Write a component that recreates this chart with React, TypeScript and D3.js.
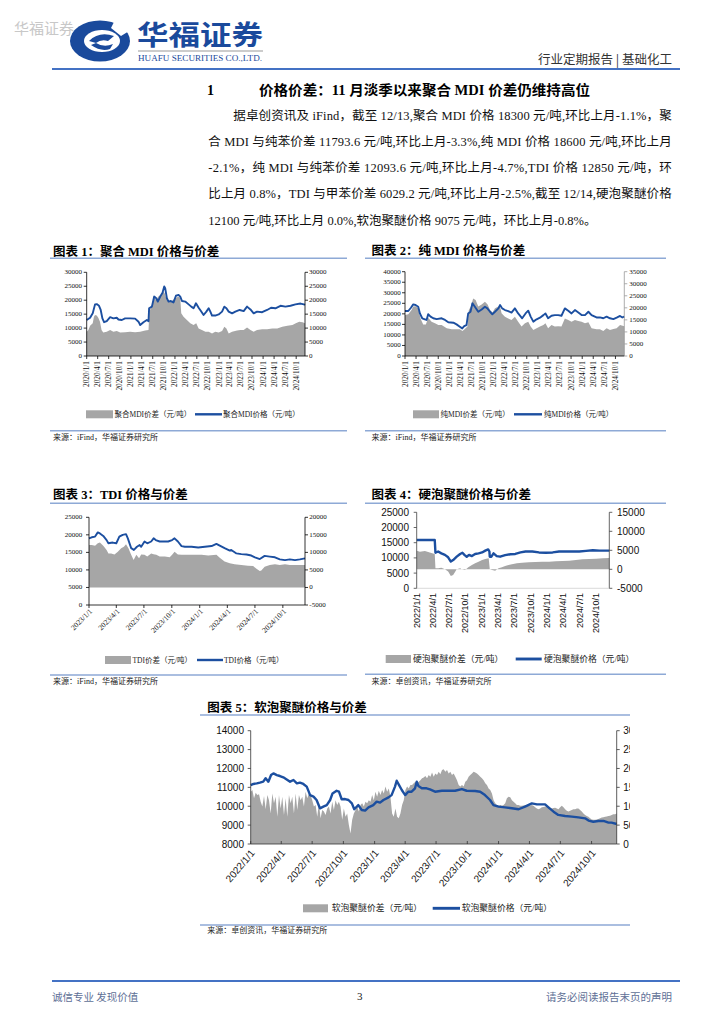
import React from "react";
import * as d3 from "d3";

// ---------------- DATA ----------------
const qTicks2020 = ["2020/1/1","2020/4/1","2020/7/1","2020/10/1","2021/1/1","2021/4/1","2021/7/1","2021/10/1","2022/1/1","2022/4/1","2022/7/1","2022/10/1","2023/1/1","2023/4/1","2023/7/1","2023/10/1","2024/1/1","2024/4/1","2024/7/1","2024/10/1"];
const qTicks2022 = ["2022/1/1","2022/4/1","2022/7/1","2022/10/1","2023/1/1","2023/4/1","2023/7/1","2023/10/1","2024/1/1","2024/4/1","2024/7/1","2024/10/1"];
const qTicks2023 = ["2023/1/1","2023/4/1","2023/7/1","2023/10/1","2024/1/1","2024/4/1","2024/7/1","2024/10/1"];

// Chart 1: 聚合MDI
const c1LeftTicks = [0,5000,10000,15000,20000,25000,30000];
const c1RightTicks = [0,5000,10000,15000,20000,25000,30000];
const c1PriceDates = ["2020-01-01","2020-01-29","2020-02-20","2020-03-10","2020-03-24","2020-04-12","2020-04-26","2020-05-10","2020-05-24","2020-06-15","2020-07-13","2020-08-09","2020-09-06","2020-09-20","2020-10-18","2020-11-14","2020-12-26","2021-02-05","2021-03-05","2021-03-19","2021-04-15","2021-05-13","2021-05-27","2021-06-01","2021-06-24","2021-07-13","2021-07-30","2021-08-12","2021-09-01","2021-09-20","2021-10-04","2021-10-12","2021-10-26","2021-11-09","2021-11-28","2021-12-20","2022-01-09","2022-01-31","2022-02-14","2022-02-28","2022-03-27","2022-04-24","2022-05-16","2022-06-04","2022-06-24","2022-07-16","2022-08-04","2022-08-26","2022-09-18","2022-10-07","2022-10-21","2022-11-04","2022-12-01","2022-12-29","2023-01-26","2023-02-14","2023-03-03","2023-03-22","2023-04-19","2023-05-16","2023-06-21","2023-07-24","2023-08-21","2023-09-18","2023-10-15","2023-11-12","2023-12-24","2024-02-03","2024-03-07","2024-04-12","2024-05-24","2024-07-04","2024-08-15","2024-09-25","2024-11-06","2024-12-04","2024-12-13"];
const c1Price = [12900,13700,15300,18500,18600,18000,16500,13500,12100,12500,13900,13500,13700,13100,12900,13500,13500,13400,12300,11100,12100,12900,12500,17100,17700,21300,20700,19500,21300,22700,24900,24300,20700,19500,19700,19200,21600,21900,21300,19700,19500,18500,17700,17100,18900,17300,16100,14700,15900,17100,15900,14500,14500,14900,15900,17700,17100,15900,15300,15900,16500,16100,17700,16700,15300,15900,15700,16500,17300,17100,18000,17700,18000,18500,18800,18500,18300];
const c1SpreadDates = ["2020-01-01","2020-01-15","2020-01-29","2020-02-20","2020-03-01","2020-03-10","2020-03-24","2020-04-06","2020-04-20","2020-05-03","2020-05-17","2020-06-15","2020-07-13","2020-08-09","2020-09-06","2020-10-04","2020-11-14","2020-12-26","2021-02-05","2021-03-19","2021-04-29","2021-05-27","2021-06-03","2021-06-24","2021-07-13","2021-07-30","2021-08-16","2021-09-06","2021-09-28","2021-10-08","2021-10-20","2021-11-09","2021-12-06","2022-01-03","2022-01-31","2022-02-14","2022-02-22","2022-03-13","2022-04-10","2022-05-08","2022-06-04","2022-06-26","2022-07-16","2022-08-12","2022-09-10","2022-10-07","2022-11-04","2022-12-01","2022-12-29","2023-01-26","2023-02-14","2023-03-03","2023-03-22","2023-04-19","2023-05-30","2023-06-27","2023-07-24","2023-08-21","2023-09-18","2023-10-15","2023-11-12","2023-12-24","2024-02-03","2024-03-17","2024-04-27","2024-06-08","2024-07-20","2024-08-31","2024-09-28","2024-10-26","2024-11-23","2024-12-13"];
const c1Spread = [8700,9300,10800,11700,14100,14700,14500,13700,12300,9300,8400,8700,9300,8700,9000,8400,8500,8700,8500,8700,9100,9300,15900,18300,20700,20100,21300,21900,23000,22500,20700,19500,19700,20700,21300,20700,15300,14100,12900,11700,11100,11700,9900,9300,8700,8700,8100,8700,8400,9000,10500,9900,8100,8700,9100,9300,9300,10200,9300,8700,9300,9600,9600,9900,9900,10500,10800,11100,11700,12300,12100,11700];

// Chart 2: 纯MDI
const c2LeftTicks = [0,5000,10000,15000,20000,25000,30000,35000,40000];
const c2RightTicks = [0,5000,10000,15000,20000,25000,30000,35000];
const c2PriceDates = ["2020-01-01","2020-01-28","2020-02-19","2020-03-09","2020-03-28","2020-04-19","2020-05-03","2020-05-22","2020-06-13","2020-06-27","2020-07-10","2020-07-30","2020-08-21","2020-09-18","2020-10-29","2020-11-26","2020-12-23","2021-02-03","2021-03-01","2021-03-28","2021-04-17","2021-05-03","2021-05-22","2021-06-05","2021-06-24","2021-07-10","2021-07-30","2021-08-27","2021-09-24","2021-10-21","2021-11-10","2021-12-02","2021-12-21","2022-01-12","2022-02-09","2022-02-23","2022-03-12","2022-04-04","2022-05-01","2022-05-28","2022-06-25","2022-07-22","2022-08-24","2022-09-21","2022-10-13","2022-11-02","2022-11-24","2022-12-21","2023-01-18","2023-02-15","2023-03-04","2023-03-26","2023-04-23","2023-05-20","2023-06-17","2023-07-14","2023-08-11","2023-09-08","2023-10-05","2023-11-02","2023-11-30","2023-12-27","2024-01-24","2024-02-21","2024-03-18","2024-04-28","2024-05-26","2024-06-23","2024-07-20","2024-08-17","2024-09-14","2024-10-11","2024-11-08","2024-11-27","2024-12-13"];
const c2Price = [21340,21340,22900,24500,24200,23400,20200,17900,17400,17100,19800,18700,17900,17500,17900,17100,16000,15800,15000,13900,13100,14200,14700,20200,21000,25000,23400,21000,22100,23400,22600,21000,19800,21000,22600,24200,22600,21800,21300,20600,22600,20200,17900,20200,21500,18700,16300,17400,18200,19400,20200,17900,19100,19400,19400,19100,22600,21500,20200,21800,20600,19400,19400,21000,19400,18300,18300,17900,18700,17900,17500,18200,19000,18300,18650];
const c2SpreadDates = ["2020-01-01","2020-01-28","2020-02-24","2020-03-09","2020-03-28","2020-04-19","2020-05-08","2020-05-30","2020-06-21","2020-07-10","2020-08-07","2020-09-04","2020-10-02","2020-10-29","2020-12-10","2021-01-20","2021-03-01","2021-03-28","2021-04-19","2021-05-08","2021-05-30","2021-06-10","2021-06-27","2021-07-16","2021-08-05","2021-08-27","2021-09-24","2021-10-21","2021-11-12","2021-12-02","2021-12-23","2022-01-12","2022-02-09","2022-02-23","2022-03-07","2022-04-04","2022-05-01","2022-05-28","2022-06-25","2022-07-22","2022-08-19","2022-09-16","2022-10-13","2022-11-02","2022-11-24","2022-12-21","2023-01-18","2023-02-15","2023-03-04","2023-03-26","2023-04-23","2023-05-20","2023-06-17","2023-07-14","2023-08-11","2023-09-08","2023-10-05","2023-11-02","2023-11-30","2023-12-27","2024-01-24","2024-02-21","2024-03-18","2024-04-28","2024-05-26","2024-06-23","2024-07-20","2024-08-17","2024-09-14","2024-10-11","2024-11-08","2024-12-13"];
const c2Spread = [17000,17300,19100,20500,20700,19800,15600,13100,13100,15900,14200,13600,12900,12900,11500,11100,11100,11100,10400,11200,12200,19100,20500,23900,23200,20500,21400,22500,21400,19100,18100,19800,20500,20500,17700,16300,15600,14900,16300,14200,12200,13600,14200,12200,10800,11500,12200,12900,13600,11500,12900,12200,12400,12200,15600,14900,14200,14900,14500,14200,13600,14000,11500,11100,11100,10400,11500,10800,11200,11500,12900,12400];

// Chart 3: TDI
const c3LeftTicks = [0,5000,10000,15000,20000,25000];
const c3RightTicks = [-5000,0,5000,10000,15000,20000];
const c3PriceDates = ["2023-01-01","2023-01-10","2023-01-21","2023-01-30","2023-02-06","2023-02-17","2023-02-28","2023-03-06","2023-03-20","2023-04-01","2023-04-11","2023-04-22","2023-05-03","2023-05-09","2023-05-20","2023-05-29","2023-06-08","2023-06-17","2023-06-22","2023-07-03","2023-07-12","2023-07-25","2023-08-02","2023-08-09","2023-08-22","2023-09-08","2023-09-19","2023-10-02","2023-10-10","2023-10-21","2023-11-02","2023-11-13","2023-12-05","2023-12-27","2024-01-18","2024-02-09","2024-02-25","2024-03-07","2024-03-23","2024-04-09","2024-04-14","2024-05-01","2024-05-17","2024-06-03","2024-06-19","2024-07-01","2024-07-17","2024-08-02","2024-08-19","2024-09-05","2024-09-21","2024-10-08","2024-10-24","2024-11-10","2024-11-26","2024-12-13"];
const c3Price = [19000,19300,19500,20700,20400,19700,18500,17600,17800,17600,19500,20000,20200,19000,16200,15700,16600,17100,16600,18100,17600,18100,19000,18500,18100,18100,18100,18500,19000,18100,16800,16600,16600,16400,16600,16800,17400,16900,16200,15500,15700,14700,14500,14400,14100,13600,13100,14000,13800,13600,13000,12800,13000,12800,13000,13300];
const c3SpreadDates = ["2023-01-01","2023-01-10","2023-01-21","2023-01-30","2023-02-06","2023-02-17","2023-02-28","2023-03-06","2023-03-15","2023-03-26","2023-04-06","2023-04-17","2023-04-26","2023-05-03","2023-05-11","2023-05-20","2023-05-28","2023-06-06","2023-06-15","2023-06-22","2023-07-03","2023-07-12","2023-07-25","2023-08-02","2023-08-11","2023-08-22","2023-09-08","2023-09-24","2023-10-02","2023-10-10","2023-10-21","2023-11-02","2023-11-24","2023-12-15","2024-01-07","2024-01-29","2024-02-25","2024-03-07","2024-03-23","2024-04-09","2024-04-25","2024-05-17","2024-06-08","2024-06-25","2024-07-06","2024-07-17","2024-07-22","2024-08-02","2024-08-19","2024-09-05","2024-09-21","2024-10-08","2024-10-24","2024-11-10","2024-11-26","2024-12-13"];
const c3Spread = [12100,12100,11900,12600,12800,11900,10700,9700,9700,9400,10200,11200,11600,12300,11200,9300,7800,9300,8300,9400,9300,8800,9700,9500,9300,8800,8800,8600,9300,10200,9400,9300,9300,9300,9300,9100,9300,8500,7400,6900,6600,6400,6200,6100,5300,4700,4800,5900,6400,6600,6400,6600,6400,6400,6400,6400];

// Chart 4: 硬泡聚醚
const c4LeftTicks = [0,5000,10000,15000,20000,25000];
const c4RightTicks = [-5000,0,5000,10000,15000];
const c4PriceDates = ["2022-01-01","2022-04-12","2022-04-16","2022-05-01","2022-05-19","2022-06-08","2022-06-26","2022-07-11","2022-07-24","2022-08-13","2022-09-01","2022-09-14","2022-09-25","2022-10-08","2022-10-21","2022-11-06","2022-11-24","2022-12-13","2023-01-02","2023-01-20","2023-02-05","2023-02-12","2023-02-14","2023-02-23","2023-03-07","2023-03-25","2023-04-13","2023-05-11","2023-06-09","2023-07-07","2023-08-05","2023-09-02","2023-10-10","2023-11-16","2023-12-24","2024-02-01","2024-03-08","2024-04-15","2024-05-22","2024-06-29","2024-08-06","2024-09-13","2024-10-20","2024-11-27","2024-12-14"];
const c4Price = [15900,15900,11700,12100,11500,11000,10200,8800,9300,10400,11300,11700,11000,10400,11000,10600,11300,11500,11800,12400,12800,12100,10400,10400,11500,10600,10400,10900,11200,11300,11800,12100,12100,11800,11700,11800,12100,12100,12100,12100,12300,12500,12400,12400,12400];
const c4SpreadDates = ["2022-01-01","2022-01-19","2022-02-16","2022-03-15","2022-04-12","2022-04-16","2022-05-01","2022-05-19","2022-06-08","2022-06-26","2022-07-11","2022-07-24","2022-08-13","2022-09-01","2022-09-10","2022-09-29","2022-10-17","2022-11-06","2022-11-24","2022-12-13","2023-01-02","2023-01-20","2023-02-08","2023-02-14","2023-02-27","2023-03-16","2023-04-04","2023-04-23","2023-05-11","2023-05-30","2023-06-18","2023-07-16","2023-08-14","2023-09-21","2023-10-28","2023-12-05","2024-01-12","2024-02-19","2024-03-27","2024-05-03","2024-06-10","2024-07-17","2024-08-25","2024-10-01","2024-11-08","2024-12-14"];
const c4Spread = [4900,4650,4800,4400,4000,260,260,440,0,-600,-1750,-1500,0,260,0,-175,530,1140,1580,2000,2450,2700,2900,0,-175,-350,260,530,880,1140,1300,1580,1750,1840,1930,2000,2000,2100,2200,2280,2450,2630,2720,2800,2900,2980];

// Chart 5: 软泡聚醚
const c5LeftTicks = [8000,9000,10000,11000,12000,13000,14000];
const c5RightTicks = [0,500,1000,1500,2000,2500,3000];
const c5PriceDates = ["2022-01-01","2022-01-09","2022-01-19","2022-01-28","2022-02-07","2022-02-14","2022-02-22","2022-03-02","2022-03-09","2022-03-19","2022-03-28","2022-04-07","2022-04-17","2022-04-27","2022-05-07","2022-05-17","2022-05-26","2022-06-05","2022-06-15","2022-06-25","2022-07-05","2022-07-14","2022-07-24","2022-08-03","2022-08-13","2022-08-23","2022-08-30","2022-09-11","2022-09-18","2022-09-26","2022-10-06","2022-10-16","2022-10-26","2022-11-02","2022-11-14","2022-11-24","2022-12-04","2022-12-14","2022-12-28","2023-01-07","2023-01-17","2023-01-27","2023-02-11","2023-02-20","2023-03-02","2023-03-07","2023-03-14","2023-03-22","2023-04-01","2023-04-10","2023-04-20","2023-04-30","2023-05-05","2023-05-10","2023-05-20","2023-06-03","2023-06-13","2023-06-28","2023-07-18","2023-08-06","2023-08-26","2023-09-15","2023-09-29","2023-10-24","2023-11-08","2023-11-22","2023-12-07","2023-12-17","2024-01-01","2024-01-20","2024-02-09","2024-02-29","2024-03-19","2024-04-08","2024-04-23","2024-05-17","2024-05-27","2024-06-11","2024-06-25","2024-07-15","2024-08-04","2024-08-23","2024-09-12","2024-09-22","2024-10-06","2024-10-21","2024-11-05","2024-11-20","2024-11-29","2024-12-14"];
const c5Price = [11120,11180,11210,11250,11300,11480,11300,11650,11740,11650,11600,11530,11420,11300,11390,11210,11250,11180,11040,10590,10510,10330,9890,9980,10060,10330,10680,10820,10770,10370,10380,10330,10150,9840,10060,9800,9770,9940,10060,10240,10190,10330,10470,10590,11040,11350,11120,10860,10590,10770,10770,10950,11300,11070,10950,10950,10890,10770,10820,10820,10820,10910,10820,10810,10770,10590,10330,10060,9980,9940,9890,9840,9980,10150,10100,10100,9940,9710,9540,9480,9450,9410,9360,9240,9180,9220,9220,9130,9130,9060];
// soft-foam spread: daily-series samples taken at equal intervals from 2022/1/1 to 2024/12/14
const c5Spread = [1385,1430,1210,1360,1300,1320,1120,990,1270,920,1300,1160,810,1340,1080,1250,720,1300,940,1250,770,1210,720,1300,1080,1250,810,1340,900,1300,1160,1250,990,1385,1210,1340,1300,1160,990,1030,720,1080,680,900,860,770,940,990,810,1120,900,1160,1030,1120,990,640,940,720,810,500,280,640,810,900,990,860,1030,1080,990,1120,1080,1160,1120,1300,1160,1385,1250,1410,1300,1430,1340,1520,1385,1470,1250,810,720,940,720,680,810,1030,1160,1430,1520,1470,1560,1560,1610,1650,1610,1650,1690,1740,1760,1800,1740,1830,1780,1890,1780,1870,1830,1910,1850,1960,1980,1910,1960,1870,1910,1830,1870,1780,1690,1560,1520,1560,1520,1650,1690,1780,1830,1870,1910,1890,1870,1830,1780,1740,1690,1610,1560,1470,1430,1340,1160,1080,1030,1010,1030,1010,1030,1080,1210,1250,1240,1160,1120,1080,1030,1030,1010,1010,1020,1030,1010,1010,1020,1030,1010,970,940,920,940,970,980,990,980,970,950,940,950,960,940,920,970,1010,970,920,880,860,880,900,920,920,940,940,900,860,810,770,740,720,680,650,640,640,650,660,680,700,710,720,730,740,750,770,790,790,810];

const bodyLines = [
  "据卓创资讯及 iFind，截至 12/13,聚合 MDI 价格 18300 元/吨,环比上月-1.1%，聚",
  "合 MDI 与纯苯价差 11793.6 元/吨,环比上月-3.3%,纯 MDI 价格 18600 元/吨,环比上月",
  "-2.1%，纯 MDI 与纯苯价差 12093.6 元/吨,环比上月-4.7%,TDI 价格 12850 元/吨，环",
  "比上月 0.8%，TDI 与甲苯价差 6029.2 元/吨,环比上月-2.5%,截至 12/14,硬泡聚醚价格",
  "12100 元/吨,环比上月 0.0%,软泡聚醚价格 9075 元/吨，环比上月-0.8%。",
];

// ---------------- STYLE ----------------
const SERIF = "'Liberation Serif','Times New Roman','Noto Sans CJK SC',serif";
const SANS = "'Liberation Sans',Arial,'Noto Sans CJK SC',sans-serif";
const BLUE = "#1C4FA0";
const AREA = "#A6A6A6";
const RULE = "#8EA9D6";
const LOGO = "#1A4A9C";

type Pt = { d: Date; v: number };
const pd = (s: string) => {
  const [y, m, d] = s.split(/[-/]/).map(Number);
  return new Date(y, m - 1, d);
};

type Spec = {
  id: string;
  title: string; titleX: number; titleY: number;
  ruleX0: number; ruleX1: number; ruleTop: number; ruleBottom: number;
  source: string; sourceY: number;
  left: number; right: number; top: number; bottom: number;
  xStart: string; xEnd: string; xTicks: string[];
  yL: number[]; yLTicks: number[]; yR: number[]; yRTicks: number[];
  areaDates?: string[]; areaValues: number[]; areaAxis: "L" | "R";
  lineDates: string[]; lineValues: number[]; lineAxis: "L" | "R";
  font: string; tickFont: number; xFont: number; rot: number; xLabelY: number;
  lLabelX: number; rLabelX: number;
  legendY: number; rect: number[]; t1x: number; seg: number[]; t2x: number;
  t1: string; t2: string; legendFont: number;
  lineWidth: number; ticksUp?: boolean; axisColor: string; rightAxisColor: string;
  bottomColor: string; bottomTicks: boolean; clipRight?: number;
};

function Chart({ s }: { s: Spec }) {
  const x = d3.scaleTime().domain([pd(s.xStart), pd(s.xEnd)]).range([s.left, s.right]);
  const yL = d3.scaleLinear().domain(s.yL).range([s.bottom, s.top]);
  const yR = d3.scaleLinear().domain(s.yR).range([s.bottom, s.top]);
  const ya = s.areaAxis === "L" ? yL : yR;
  const yl = s.lineAxis === "L" ? yL : yR;
  const t0 = +pd(s.xStart), t1 = +pd(s.xEnd);
  const n = s.areaValues.length;
  const aDates = s.areaDates
    ? s.areaDates.map(pd)
    : s.areaValues.map((_, i) => new Date(t0 + ((t1 - t0) * i) / (n - 1)));
  const aPts: Pt[] = s.areaValues.map((v, i) => ({ d: aDates[i], v })).filter((p) => p.d);
  const lPts: Pt[] = s.lineValues
    .map((v, i) => ({ d: s.lineDates[i] ? pd(s.lineDates[i]) : (null as any), v }))
    .filter((p) => p.d);
  const areaPath = d3.area<Pt>().x((p) => x(p.d)).y0(ya(0)).y1((p) => ya(p.v))(aPts) || "";
  const linePath = d3.line<Pt>().x((p) => x(p.d)).y((p) => yl(p.v))(lPts) || "";
  const xt = s.xTicks.map((l) => ({ l, x: x(pd(l)) }));
  const clipId = `clip-${s.id}`;
  return (
    <g>
      {s.clipRight && (
        <defs>
          <clipPath id={clipId}>
            <rect x={0} y={0} width={s.clipRight} height={1024} />
          </clipPath>
        </defs>
      )}
      <text x={s.titleX} y={s.titleY} fontFamily={SERIF} fontWeight="bold" fontSize={12.5} dominantBaseline="central" fill="#000">
        {s.title}
      </text>
      <line x1={s.ruleX0} x2={s.ruleX1} y1={s.ruleTop} y2={s.ruleTop} stroke={RULE} strokeWidth={1.5} />
      <line x1={s.ruleX0} x2={s.ruleX1} y1={s.ruleBottom} y2={s.ruleBottom} stroke={RULE} strokeWidth={1.5} />
      <text x={s.titleX} y={s.sourceY} fontFamily={SERIF} fontSize={8} dominantBaseline="central" fill="#222">
        {s.source}
      </text>
      <path d={areaPath} fill={AREA} />
      <path d={linePath} fill="none" stroke={BLUE} strokeWidth={s.lineWidth} strokeLinejoin="round" />
      <line x1={s.left} x2={s.left} y1={s.top} y2={s.bottom} stroke={s.axisColor} strokeWidth={0.8} />
      <line x1={s.right} x2={s.right} y1={s.top} y2={s.bottom} stroke={s.rightAxisColor} strokeWidth={0.8} />
      <line x1={s.left} x2={s.right} y1={s.bottom} y2={s.bottom} stroke={s.bottomColor} strokeWidth={0.8} />
      {s.yLTicks.map((v) => (
        <g key={"l" + v}>
          <line x1={s.left - 3} x2={s.left} y1={yL(v)} y2={yL(v)} stroke={s.axisColor} strokeWidth={0.8} />
          <text x={s.lLabelX} y={yL(v)} textAnchor="end" dominantBaseline="central" fontFamily={s.font} fontSize={s.tickFont} fill="#111">
            {v}
          </text>
        </g>
      ))}
      <g clipPath={s.clipRight ? `url(#${clipId})` : undefined}>
        {s.yRTicks.map((v) => (
          <g key={"r" + v}>
            <line x1={s.right} x2={s.right + 3} y1={yR(v)} y2={yR(v)} stroke={s.rightAxisColor} strokeWidth={0.8} />
            <text x={s.rLabelX} y={yR(v)} textAnchor="start" dominantBaseline="central" fontFamily={s.font} fontSize={s.tickFont} fill="#111">
              {v}
            </text>
          </g>
        ))}
      </g>
      {xt.map((t) => (
        <g key={t.l}>
          {s.bottomTicks && (
            <line x1={t.x} x2={t.x} y1={s.bottom} y2={s.ticksUp ? s.bottom - 3 : s.bottom + 3} stroke={s.bottomColor} strokeWidth={0.8} />
          )}
          <text
            transform={`translate(${t.x + (s.rot === -90 ? 0 : 2)},${s.xLabelY}) rotate(${s.rot})`}
            textAnchor="end"
            dominantBaseline="central"
            fontFamily={s.font}
            fontSize={s.xFont}
            fill="#111"
          >
            {t.l}
          </text>
        </g>
      ))}
      <rect x={s.rect[0]} y={s.legendY - 4} width={s.rect[1] - s.rect[0]} height={8} fill={AREA} />
      <text x={s.t1x} y={s.legendY} dominantBaseline="central" fontFamily={SERIF} fontSize={s.legendFont} fill="#222">
        {s.t1}
      </text>
      <line x1={s.seg[0]} x2={s.seg[1]} y1={s.legendY} y2={s.legendY} stroke={BLUE} strokeWidth={s.lineWidth + 0.5} />
      <text x={s.t2x} y={s.legendY} dominantBaseline="central" fontFamily={SERIF} fontSize={s.legendFont} fill="#222">
        {s.t2}
      </text>
    </g>
  );
}

const specs: Spec[] = [
  {
    id: "c1", title: "图表 1：聚合 MDI 价格与价差", titleX: 53, titleY: 251.5,
    ruleX0: 50, ruleX1: 347, ruleTop: 258.3, ruleBottom: 430.7,
    source: "来源：iFind，华福证券研究所", sourceY: 437,
    left: 86.7, right: 305, top: 272.3, bottom: 356,
    xStart: "2020-01-01", xEnd: "2024-12-13", xTicks: qTicks2020,
    yL: [0, 30000], yLTicks: c1LeftTicks, yR: [0, 30000], yRTicks: c1RightTicks,
    areaDates: c1SpreadDates, areaValues: c1Spread, areaAxis: "L",
    lineDates: c1PriceDates, lineValues: c1Price, lineAxis: "R",
    font: SERIF, tickFont: 7, xFont: 7.3, rot: -90, xLabelY: 361,
    lLabelX: 82, rLabelX: 309,
    legendY: 414.3, rect: [86, 113], t1x: 114.5, seg: [195, 222], t2x: 223,
    t1: "聚合MDI价差（元/吨）", t2: "聚合MDI价格（元/吨）", legendFont: 7.5,
    lineWidth: 1.9, axisColor: "#000", rightAxisColor: "#000", bottomColor: "#000", bottomTicks: true,
  },
  {
    id: "c2", title: "图表 2：纯 MDI 价格与价差", titleX: 371.5, titleY: 251,
    ruleX0: 365, ruleX1: 666, ruleTop: 258.3, ruleBottom: 430.7,
    source: "来源：iFind，华福证券研究所", sourceY: 437,
    left: 405, right: 624.3, top: 271.7, bottom: 356,
    xStart: "2020-01-01", xEnd: "2024-12-13", xTicks: qTicks2020,
    yL: [0, 40000], yLTicks: c2LeftTicks, yR: [0, 35000], yRTicks: c2RightTicks,
    areaDates: c2SpreadDates, areaValues: c2Spread, areaAxis: "R",
    lineDates: c2PriceDates, lineValues: c2Price, lineAxis: "L",
    font: SERIF, tickFont: 7, xFont: 7.3, rot: -90, xLabelY: 361,
    lLabelX: 400.7, rLabelX: 629.3,
    legendY: 414.3, rect: [413, 439], t1x: 440.5, seg: [514, 542], t2x: 544,
    t1: "纯MDI价差（元/吨）", t2: "纯MDI价格（元/吨）", legendFont: 7.5,
    lineWidth: 1.9, axisColor: "#000", rightAxisColor: "#999", bottomColor: "#000", bottomTicks: true,
  },
  {
    id: "c3", title: "图表 3：TDI 价格与价差", titleX: 53, titleY: 495,
    ruleX0: 50, ruleX1: 347, ruleTop: 503.3, ruleBottom: 675,
    source: "来源：iFind，华福证券研究所", sourceY: 681.7,
    left: 89, right: 305, top: 517.3, bottom: 605,
    xStart: "2023-01-01", xEnd: "2024-12-13", xTicks: qTicks2023,
    yL: [0, 25000], yLTicks: c3LeftTicks, yR: [-5000, 20000], yRTicks: c3RightTicks,
    areaDates: c3SpreadDates, areaValues: c3Spread, areaAxis: "R",
    lineDates: c3PriceDates, lineValues: c3Price, lineAxis: "L",
    font: SERIF, tickFont: 7, xFont: 7.5, rot: -45, xLabelY: 610,
    lLabelX: 82.3, rLabelX: 309.3,
    legendY: 660, rect: [105, 131], t1x: 132.5, seg: [197, 223], t2x: 224,
    t1: "TDI价差（元/吨）", t2: "TDI价格（元/吨）", legendFont: 7.5,
    lineWidth: 1.9, axisColor: "#000", rightAxisColor: "#000", bottomColor: "#000", bottomTicks: true,
  },
  {
    id: "c4", title: "图表 4：硬泡聚醚价格与价差", titleX: 371.5, titleY: 495,
    ruleX0: 365, ruleX1: 666, ruleTop: 503.3, ruleBottom: 674.3,
    source: "来源：卓创资讯，华福证券研究所", sourceY: 681.7,
    left: 416.7, right: 609.3, top: 512.3, bottom: 588.3,
    xStart: "2022-01-01", xEnd: "2024-12-14", xTicks: qTicks2022,
    yL: [0, 25000], yLTicks: c4LeftTicks, yR: [-5000, 15000], yRTicks: c4RightTicks,
    areaDates: c4SpreadDates, areaValues: c4Spread, areaAxis: "R",
    lineDates: c4PriceDates, lineValues: c4Price, lineAxis: "L",
    font: SANS, tickFont: 10, xFont: 9, rot: -90, xLabelY: 593,
    lLabelX: 409, rLabelX: 617,
    legendY: 659, rect: [385.7, 411], t1x: 413, seg: [515.7, 541.7], t2x: 544,
    t1: "硬泡聚醚价差（元/吨）", t2: "硬泡聚醚价格（元/吨）", legendFont: 8.8,
    lineWidth: 2.4, axisColor: "#404040", rightAxisColor: "#404040", bottomColor: "#d0d0d0", bottomTicks: false,
  },
  {
    id: "c5", title: "图表 5：软泡聚醚价格与价差", titleX: 207.3, titleY: 708.3,
    ruleX0: 200, ruleX1: 630, ruleTop: 715, ruleBottom: 925,
    source: "来源：卓创资讯，华福证券研究所", sourceY: 930.7,
    left: 250.7, right: 616.7, top: 730.7, bottom: 844,
    xStart: "2022-01-01", xEnd: "2024-12-14", xTicks: qTicks2022,
    yL: [8000, 14000], yLTicks: c5LeftTicks, yR: [0, 3000], yRTicks: c5RightTicks,
    areaValues: c5Spread, areaAxis: "R",
    lineDates: c5PriceDates, lineValues: c5Price, lineAxis: "L",
    font: SANS, tickFont: 10, xFont: 10, rot: -50, xLabelY: 851,
    lLabelX: 244, rLabelX: 623.3,
    legendY: 908.3, rect: [303, 328], t1x: 331.7, seg: [432.7, 460], t2x: 461.7,
    t1: "软泡聚醚价差（元/吨）", t2: "软泡聚醚价格（元/吨）", legendFont: 8.8,
    lineWidth: 2.4, ticksUp: true, axisColor: "#333", rightAxisColor: "#333", bottomColor: "#333", bottomTicks: true,
    clipRight: 630,
  },
];

export default function App() {
  return (
    <div style={{ position: "absolute", left: 0, top: 0 }}>
      <svg width={724} height={1024} style={{ display: "block" }}>
        <rect width={724} height={1024} fill="#fff" />
        {/* header */}
        <text x={14} y={27} fontFamily="'Noto Sans CJK SC',sans-serif" fontSize={15} fill="#c8c8c8" dominantBaseline="central">
          华福证券
        </text>
        <g>
          <ellipse cx={100} cy={41} rx={30} ry={20.5} fill={LOGO} />
          <ellipse cx={102} cy={41} rx={18} ry={11} fill="#fff" />
          <path d="M 117 16 L 134 28 L 121 36 L 111 28 Z" fill="#fff" />
          <path d="M 89 41 Q 99 31 114 36 L 108 41 Q 101 39 96 43 Z" fill={LOGO} />
          <path d="M 96 43 Q 104 48 113 44 L 110 49 Q 101 52 91 45 Z" fill={LOGO} />
        </g>
        <text x={137} y={33.5} fontFamily="'Noto Sans CJK SC',sans-serif" fontWeight="bold" fontSize={27} fill={LOGO} dominantBaseline="central" textLength={126} lengthAdjust="spacingAndGlyphs">
          华福证券
        </text>
        <line x1={138} x2={263} y1={51} y2={51} stroke="#999" strokeWidth={1} />
        <text x={138} y={58} fontFamily={SERIF} fontSize={7.5} fill={LOGO} dominantBaseline="central" textLength={124} lengthAdjust="spacingAndGlyphs">
          HUAFU SECURITIES CO.,LTD.
        </text>
        <text x={672} y={58} textAnchor="end" fontFamily="'Noto Sans CJK SC',sans-serif" fontSize={12.5} fill="#333" dominantBaseline="central">
          行业定期报告 | 基础化工
        </text>
        <line x1={52} x2={680} y1={69} y2={69} stroke="#4472C4" strokeWidth={2} />

        {/* section heading */}
        <text x={207} y={90} fontFamily={SERIF} fontWeight="bold" fontSize={14} dominantBaseline="central">1</text>
        <text x={259} y={90} fontFamily={SERIF} fontWeight="bold" fontSize={14} dominantBaseline="central" textLength={331} lengthAdjust="spacingAndGlyphs">
          价格价差：11 月淡季以来聚合 MDI 价差仍维持高位
        </text>
        {bodyLines.map((l, i) => {
          const y = [115.7, 141.7, 168.3, 194.3, 220.7][i];
          const x0 = i === 0 ? 233.3 : 208.3;
          const justify = i < 4;
          return (
            <text key={i} x={x0} y={y} fontFamily={SERIF} fontSize={12.5} dominantBaseline="central" fill="#111"
              {...(justify ? { textLength: 671.7 - x0, lengthAdjust: "spacing" } : {})}>
              {l}
            </text>
          );
        })}

        {specs.map((s) => (
          <Chart key={s.id} s={s} />
        ))}

        {/* footer */}
        <line x1={52} x2={680} y1={981} y2={981} stroke="#4472C4" strokeWidth={2} />
        <text x={52} y={996} fontFamily="'Noto Sans CJK SC',sans-serif" fontSize={10.5} fill="#5E6F96" dominantBaseline="central">
          诚信专业  发现价值
        </text>
        <text x={357} y={996} fontFamily={SERIF} fontSize={11} fill="#222" dominantBaseline="central">3</text>
        <text x={672} y={996} textAnchor="end" fontFamily="'Noto Sans CJK SC',sans-serif" fontSize={10.5} fill="#5E6F96" dominantBaseline="central">
          请务必阅读报告末页的声明
        </text>
      </svg>
    </div>
  );
}
